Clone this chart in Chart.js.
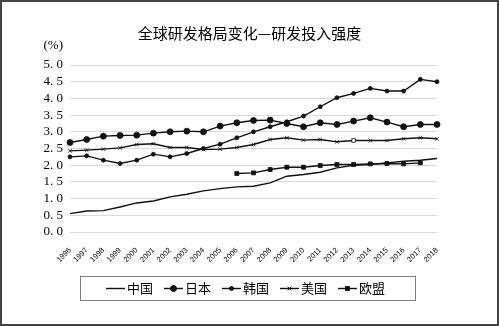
<!DOCTYPE html>
<html>
<head>
<meta charset="utf-8">
<style>
html, body { margin: 0; padding: 0; background: #fff; }
#wrap { position: relative; width: 499px; height: 326px; }
#frame { position: absolute; left: 0; top: 0; width: 499px; height: 326px; box-sizing: border-box; border: 2px solid #444; pointer-events: none; }
</style>
<script src="https://cdn.jsdelivr.net/npm/chart.js@4"></script>
</head>
<body>
<div id="wrap"><canvas id="chart" width="499" height="326"></canvas><div id="frame"></div></div>
<script>
const years = ["1996", "1997", "1998", "1999", "2000", "2001", "2002", "2003", "2004", "2005", "2006", "2007",
	"2008", "2009", "2010", "2011", "2012", "2013", "2014", "2015", "2016", "2017", "2018"];
const china = [0.55, 0.63, 0.64, 0.75, 0.87, 0.93, 1.05, 1.13, 1.23, 1.30, 1.35, 1.37,
	1.47, 1.67, 1.72, 1.79, 1.92, 2.00, 2.02, 2.07, 2.12, 2.15, 2.20];
const japan = [2.68, 2.77, 2.87, 2.89, 2.90, 2.96, 3.00, 3.02, 3.00, 3.17, 3.27, 3.34,
	3.35, 3.25, 3.15, 3.27, 3.22, 3.32, 3.42, 3.29, 3.15, 3.22, 3.22];
const korea = [2.25, 2.28, 2.15, 2.05, 2.15, 2.33, 2.25, 2.35, 2.50, 2.63, 2.82, 3.00,
	3.15, 3.30, 3.47, 3.75, 4.02, 4.15, 4.30, 4.22, 4.22, 4.57, 4.50];
const usa = [2.43, 2.45, 2.48, 2.52, 2.62, 2.64, 2.53, 2.53, 2.47, 2.48, 2.53, 2.62,
	2.77, 2.82, 2.75, 2.77, 2.70, 2.74, 2.74, 2.74, 2.79, 2.82, 2.79];
const eu = [null, null, null, null, null, null, null, null, null, null, 1.75, 1.77,
	1.87, 1.94, 1.94, 1.99, 2.02, 2.02, 2.04, 2.05, 2.04, 2.07, null];
const seriesNames = ["中国", "日本", "韩国", "美国", "欧盟"];

const ink = "#111";
const usaStyles = years.map((y) => (y === "2013" ? "rect" : "crossRot"));
const usaFill = years.map((y) => (y === "2013" ? "#fff" : ink));

// frame for the legend + custom legend entries (line + marker + label)
const legendBox = {
	id: "legendBox",
	afterDraw(chart) {
		const ctx = chart.ctx;
		ctx.save();
		ctx.strokeStyle = "#7f7f7f";
		ctx.lineWidth = 1;
		ctx.strokeRect(80.5, 276.5, 335, 24);

		ctx.font = "13px 'Noto Sans CJK SC'";
		ctx.textBaseline = "middle";
		ctx.fillStyle = "#000";
		let x = 106;
		const y = 288.5;
		chart.data.datasets.forEach((ds) => {
			ctx.strokeStyle = ink;
			ctx.lineWidth = 1.4;
			ctx.beginPath();
			ctx.moveTo(x, y);
			ctx.lineTo(x + 19, y);
			ctx.stroke();
			if (ds.pointRadius > 0) {
				const style = Array.isArray(ds.pointStyle) ? ds.pointStyle[0] : ds.pointStyle;
				ctx.fillStyle = ink;
				ctx.lineWidth = 1;
				Chart.helpers.drawPoint(ctx, { pointStyle: style, radius: ds.pointRadius, rotation: 0, borderWidth: 1 }, x + 9.5, y);
			}
			ctx.fillStyle = "#000";
			ctx.fillText(ds.label, x + 21, y);
			x += 21 + ctx.measureText(ds.label).width + 11;
		});

		// unit label above the y axis
		ctx.font = "13px 'Liberation Serif'";
		ctx.textAlign = "right";
		ctx.fillText("(%)", 63, 46);
		ctx.restore();
	},
};

const ctx = document.getElementById("chart");
new Chart(ctx, {
	type: "line",
	data: {
		labels: years,
		datasets: [
			{ label: seriesNames[0], data: china, pointRadius: 0 },
			{ label: seriesNames[1], data: japan, pointStyle: "circle", pointRadius: 3 },
			{ label: seriesNames[2], data: korea, pointStyle: "circle", pointRadius: 2 },
			{ label: seriesNames[3], data: usa, pointStyle: usaStyles, pointRadius: 2.6, pointBackgroundColor: usaFill },
			{ label: seriesNames[4], data: eu, pointStyle: "rect", pointRadius: 2.8 },
		].map((d) => Object.assign({
			borderColor: ink,
			backgroundColor: ink,
			pointBackgroundColor: ink,
			pointBorderColor: ink,
			pointBorderWidth: 0.8,
			borderWidth: 1.4,
			tension: 0,
			spanGaps: false,
		}, d)),
	},
	options: {
		responsive: false,
		animation: false,
		layout: { padding: 0 },
		plugins: {
			legend: { display: false },
			tooltip: { enabled: false },
			title: {
				display: true,
				text: "全球研发格局变化—研发投入强度",
				color: "#000",
				font: { family: "'Noto Sans CJK SC'", size: 15, weight: "normal" },
				padding: { top: 24, bottom: 23 },
			},
		},
		scales: {
			x: {
				grid: { display: false },
				border: { display: false },
				ticks: {
					autoSkip: false,
					minRotation: 45,
					maxRotation: 45,
					padding: 6,
					color: "#000",
					font: { family: "'Liberation Sans'", size: 7.5 },
				},
				afterFit: (s) => { s.height = 94; },
			},
			y: {
				min: 0,
				max: 5,
				ticks: {
					stepSize: 0.5,
					autoSkip: false,
					padding: 7,
					color: "#000",
					font: { family: "'Liberation Serif'", size: 13 },
					callback: (v) => v.toFixed(1).replace(".", ". "),
				},
				grid: { color: "#d9d9d9", drawTicks: false },
				border: { display: false },
				afterFit: (s) => { s.width = 70; },
			},
			// empty axis, only reserves the blank strip on the right
			y1: {
				position: "right",
				min: 0,
				max: 5,
				ticks: { display: false },
				grid: { display: false },
				border: { display: false },
				afterFit: (s) => { s.width = 62; },
			},
		},
	},
	plugins: [legendBox],
});
</script>
</body>
</html>
